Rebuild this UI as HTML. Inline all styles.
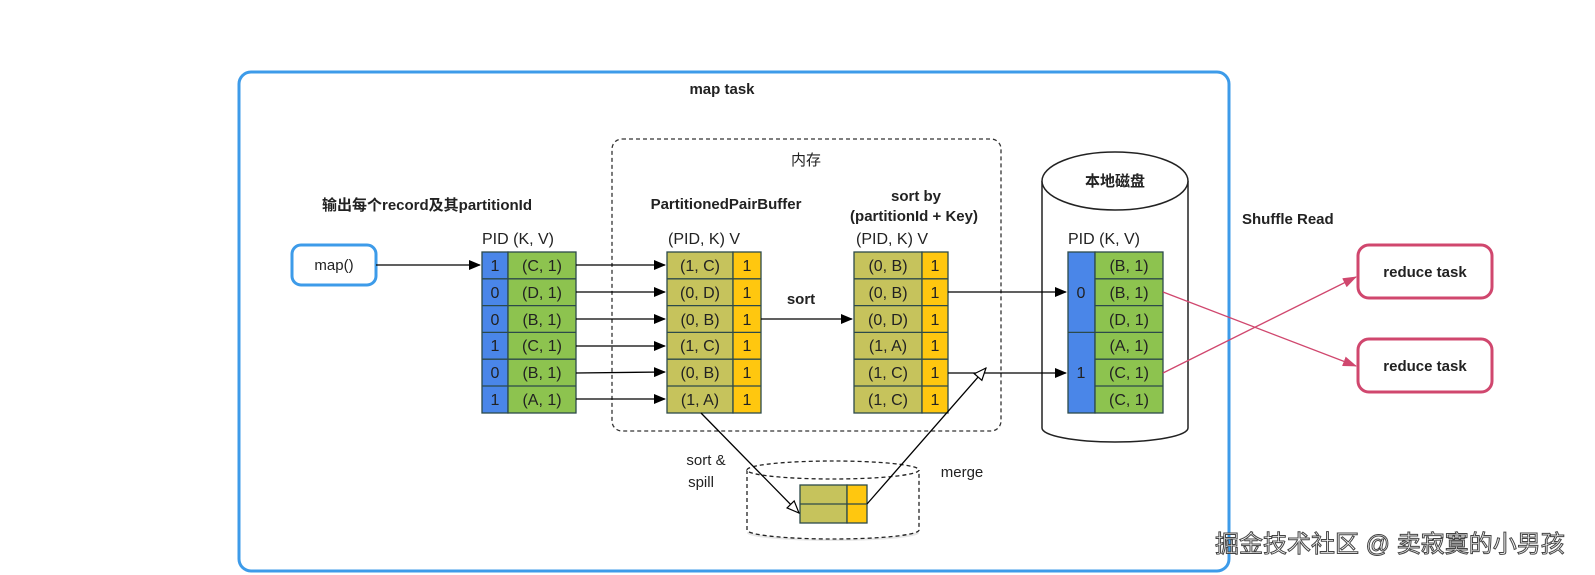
<!DOCTYPE html>
<html><head><meta charset="utf-8"><style>
html,body{margin:0;padding:0;background:#fff;}
svg{display:block;}
text{font-family:"Liberation Sans","Noto Sans CJK SC",sans-serif;fill:#222;}
.b{font-weight:bold;}
</style></head><body>
<svg width="1595" height="575" viewBox="0 0 1595 575" xmlns="http://www.w3.org/2000/svg" xml:space="preserve">
<defs>
<marker id="ah" markerWidth="12" markerHeight="10" refX="11" refY="5" orient="auto" markerUnits="userSpaceOnUse"><path d="M0,0 L12,5 L0,10 z" fill="#000"/></marker>
<marker id="ao" markerWidth="14" markerHeight="12" refX="13" refY="6" orient="auto" markerUnits="userSpaceOnUse"><path d="M1,1 L13,6 L1,11 z" fill="#fff" stroke="#000" stroke-width="1.2"/></marker>
<marker id="ap" markerWidth="14" markerHeight="10" refX="13" refY="5" orient="auto" markerUnits="userSpaceOnUse"><path d="M0,0 L14,5 L0,10 z" fill="#d0476e"/></marker>
</defs>
<rect x="239" y="72" width="990" height="499" rx="12" fill="none" stroke="#3d9be9" stroke-width="3"/>
<text x="722" y="94" text-anchor="middle" font-size="15" class="b">map task</text>
<rect x="612" y="139" width="389" height="292" rx="10" fill="none" stroke="#333" stroke-width="1.3" stroke-dasharray="4,3"/>
<text x="806" y="165" text-anchor="middle" font-size="15">内存</text>
<path d="M1042,181 L1042,428 A73,14 0 0 0 1188,428 L1188,181" fill="#fff" stroke="#222" stroke-width="1.5"/>
<ellipse cx="1115" cy="181" rx="73" ry="29" fill="#fff" stroke="#222" stroke-width="1.5"/>
<text x="1115" y="186" text-anchor="middle" font-size="15" class="b">本地磁盘</text>
<text x="427" y="210" text-anchor="middle" font-size="15" class="b">输出每个record及其partitionId</text>
<text x="726" y="209" text-anchor="middle" font-size="15" class="b">PartitionedPairBuffer</text>
<text x="916" y="201" text-anchor="middle" font-size="15" class="b">sort by</text>
<text x="914" y="221" text-anchor="middle" font-size="15" class="b">(partitionId + Key)</text>
<text x="1242" y="224" font-size="15" class="b">Shuffle Read</text>
<text x="801" y="304" text-anchor="middle" font-size="15" class="b">sort</text>
<rect x="292" y="245" width="84" height="40" rx="9" fill="#fff" stroke="#3d9be9" stroke-width="3"/>
<text x="334" y="270" text-anchor="middle" font-size="15">map()</text>
<line x1="376" y1="265" x2="480" y2="265" stroke="#000" stroke-width="1.3" marker-end="url(#ah)"/>
<text x="482" y="244" font-size="16">PID  (K, V)</text>
<text x="668" y="244" font-size="16">(PID, K)  V</text>
<text x="856" y="244" font-size="16">(PID, K)  V</text>
<text x="1068" y="244" font-size="16">PID  (K, V)</text>
<g stroke="#2c4a4a" stroke-width="1.3">
<rect x="482" y="252" width="26" height="161" fill="#4a86e8"/>
<rect x="508" y="252" width="68" height="161" fill="#8dc34f"/>
<path d="M482,278.8H576M482,305.6H576M482,332.4H576M482,359.2H576M482,386H576" fill="none"/>
<rect x="667" y="252" width="66" height="161" fill="#c6c35c"/>
<rect x="733" y="252" width="28" height="161" fill="#ffc70f"/>
<path d="M667,278.8H761M667,305.6H761M667,332.4H761M667,359.2H761M667,386H761" fill="none"/>
<rect x="854" y="252" width="68" height="161" fill="#c6c35c"/>
<rect x="922" y="252" width="26" height="161" fill="#ffc70f"/>
<path d="M854,278.8H948M854,305.6H948M854,332.4H948M854,359.2H948M854,386H948" fill="none"/>
<rect x="1068" y="252" width="27" height="161" fill="#4a86e8"/>
<rect x="1095" y="252" width="68" height="161" fill="#8dc34f"/>
<path d="M1095,278.8H1163M1095,305.6H1163M1068,332.4H1163M1095,359.2H1163M1095,386H1163" fill="none"/>
</g>
<g font-size="16" text-anchor="middle" fill="#222">
<text x="495" y="271">1</text><text x="542" y="271">(C, 1)</text>
<text x="495" y="298">0</text><text x="542" y="298">(D, 1)</text>
<text x="495" y="325">0</text><text x="542" y="325">(B, 1)</text>
<text x="495" y="351">1</text><text x="542" y="351">(C, 1)</text>
<text x="495" y="378">0</text><text x="542" y="378">(B, 1)</text>
<text x="495" y="405">1</text><text x="542" y="405">(A, 1)</text>
<text x="700" y="271">(1, C)</text><text x="747" y="271">1</text>
<text x="700" y="298">(0, D)</text><text x="747" y="298">1</text>
<text x="700" y="325">(0, B)</text><text x="747" y="325">1</text>
<text x="700" y="351">(1, C)</text><text x="747" y="351">1</text>
<text x="700" y="378">(0, B)</text><text x="747" y="378">1</text>
<text x="700" y="405">(1, A)</text><text x="747" y="405">1</text>
<text x="888" y="271">(0, B)</text><text x="935" y="271">1</text>
<text x="888" y="298">(0, B)</text><text x="935" y="298">1</text>
<text x="888" y="325">(0, D)</text><text x="935" y="325">1</text>
<text x="888" y="351">(1, A)</text><text x="935" y="351">1</text>
<text x="888" y="378">(1, C)</text><text x="935" y="378">1</text>
<text x="888" y="405">(1, C)</text><text x="935" y="405">1</text>
<text x="1081" y="298">0</text><text x="1081" y="378">1</text>
<text x="1129" y="271">(B, 1)</text>
<text x="1129" y="298">(B, 1)</text>
<text x="1129" y="325">(D, 1)</text>
<text x="1129" y="351">(A, 1)</text>
<text x="1129" y="378">(C, 1)</text>
<text x="1129" y="405">(C, 1)</text>
</g>
<g stroke="#000" stroke-width="1.3" marker-end="url(#ah)">
<line x1="576" y1="265" x2="665" y2="265"/>
<line x1="576" y1="292" x2="665" y2="292"/>
<line x1="576" y1="319" x2="665" y2="319"/>
<line x1="576" y1="346" x2="665" y2="346"/>
<line x1="576" y1="373" x2="665" y2="372"/>
<line x1="576" y1="399" x2="665" y2="399"/>
<line x1="761" y1="319" x2="852" y2="319"/>
<line x1="948" y1="292" x2="1066" y2="292"/>
<line x1="948" y1="373" x2="1066" y2="373"/>
</g>
<ellipse cx="833" cy="533" rx="86" ry="8" fill="#ddd" opacity="0.7"/>
<path d="M747,470 L747,530 A86,9 0 0 0 919,530 L919,470" fill="#fff" stroke="#222" stroke-width="1.3" stroke-dasharray="4,3"/>
<ellipse cx="833" cy="470" rx="86" ry="9" fill="#fff" stroke="#222" stroke-width="1.3" stroke-dasharray="4,3"/>
<g stroke="#2c4a4a" stroke-width="1.3">
<rect x="800" y="485" width="47" height="38" fill="#c6c35c"/>
<rect x="847" y="485" width="20" height="38" fill="#ffc70f"/>
<path d="M800,504H867" fill="none"/>
</g>
<line x1="701" y1="413" x2="799" y2="513" stroke="#000" stroke-width="1.3" marker-end="url(#ao)"/>
<line x1="867" y1="504" x2="986" y2="368" stroke="#000" stroke-width="1.3" marker-end="url(#ao)"/>
<text x="706" y="465" text-anchor="middle" font-size="15">sort &amp;</text>
<text x="701" y="487" text-anchor="middle" font-size="15">spill</text>
<text x="962" y="477" text-anchor="middle" font-size="15">merge</text>
<rect x="1358" y="245" width="134" height="53" rx="11" fill="#fff" stroke="#d0476e" stroke-width="3"/>
<text x="1425" y="277" text-anchor="middle" font-size="15" class="b">reduce task</text>
<rect x="1358" y="339" width="134" height="53" rx="11" fill="#fff" stroke="#d0476e" stroke-width="3"/>
<text x="1425" y="371" text-anchor="middle" font-size="15" class="b">reduce task</text>
<line x1="1163" y1="292" x2="1356" y2="366" stroke="#d0476e" stroke-width="1.3" marker-end="url(#ap)"/>
<line x1="1163" y1="373" x2="1356" y2="277" stroke="#d0476e" stroke-width="1.3" marker-end="url(#ap)"/>
<text x="1215" y="552" font-size="24" stroke="#444" stroke-width="1" style="fill:#fff">掘金技术社区 @ 卖寂寞的小男孩</text>
</svg>
</body></html>
